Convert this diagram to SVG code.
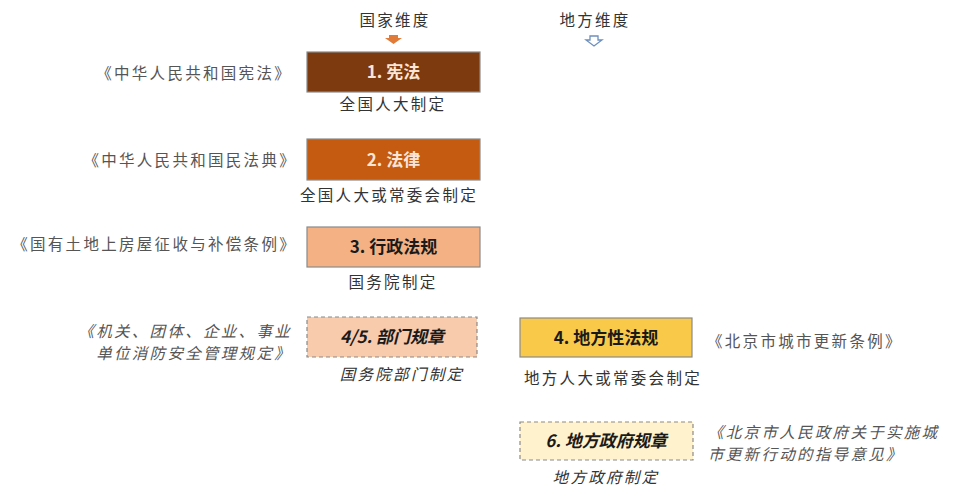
<svg xmlns="http://www.w3.org/2000/svg" width="957" height="500" viewBox="0 0 957 500">
<style>
text{font-family:"Noto Sans CJK SC","Liberation Sans",sans-serif;}
.lbl{font-size:15.5px;fill:#333;letter-spacing:2.3px;}
.src{font-size:15.5px;fill:#555;letter-spacing:2.3px;}
.it{font-style:italic;}
.bt{font-size:17px;font-weight:bold;text-anchor:middle;}
.box{stroke:#8a8a8a;stroke-width:1.2;}
.dash{stroke:#8a8a8a;stroke-width:1.2;stroke-dasharray:4 3;}
</style>
<rect width="957" height="500" fill="#fff"/>
<g id="headers">
<text class="lbl" x="395" y="26" text-anchor="middle">国家维度</text>
<path d="M389 35 H398 V38 H402 L393.5 44 L385 38 H389 Z" fill="#E07B39"/>
<text class="lbl" x="595" y="26" text-anchor="middle">地方维度</text>
<path d="M590 36 H598 V40 H602 L594 46 L586 40 H590 Z" fill="#fff" stroke="#6d8fbf" stroke-width="1.3"/>
</g>
<g id="n1">
<rect class="box" x="307" y="52" width="173" height="40" fill="#7E3A0F"/>
<text class="bt" x="393.5" y="78" fill="#FBE5D6">1. 宪法</text>
<text class="lbl" x="393" y="110" text-anchor="middle">全国人大制定</text>
<text class="src" x="292" y="79" text-anchor="end">《中华人民共和国宪法》</text>
</g>
<g id="n2">
<rect class="box" x="307" y="139" width="173" height="41" fill="#C55A11"/>
<text class="bt" x="393.5" y="166" fill="#FBE5D6">2. 法律</text>
<text class="lbl" x="389" y="201" text-anchor="middle">全国人大或常委会制定</text>
<text class="src" x="297" y="166" text-anchor="end">《中华人民共和国民法典》</text>
</g>
<g id="n3">
<rect class="box" x="307" y="227" width="173" height="40" fill="#F4B183"/>
<text class="bt" x="393.5" y="253" fill="#1a1a1a">3. 行政法规</text>
<text class="lbl" x="393" y="288" text-anchor="middle">国务院制定</text>
<text class="src" x="297" y="250" text-anchor="end">《国有土地上房屋征收与补偿条例》</text>
</g>
<g id="n45">
<rect class="dash" x="307" y="317" width="170" height="40" fill="#F8CBAD"/>
<text class="bt it" x="392" y="343" fill="#1a1a1a">4/5. 部门规章</text>
<text class="lbl it" x="402" y="380" text-anchor="middle">国务院部门制定</text>
<text class="src it" x="292" y="337" text-anchor="end">《机关、团体、企业、事业</text>
<text class="src it" x="292" y="359" text-anchor="end">单位消防安全管理规定》</text>
</g>
<g id="n4">
<rect class="box" x="520" y="318" width="172" height="39" fill="#F9C94A"/>
<text class="bt" x="606" y="344" fill="#1a1a1a">4. 地方性法规</text>
<text class="lbl" x="613" y="384" text-anchor="middle">地方人大或常委会制定</text>
<text class="src" x="707" y="347">《北京市城市更新条例》</text>
</g>
<g id="n6">
<rect class="dash" x="520" y="422" width="173" height="38" fill="#FFF2CC"/>
<text class="bt it" x="606" y="447" fill="#1a1a1a">6. 地方政府规章</text>
<text class="lbl it" x="606" y="483" text-anchor="middle">地方政府制定</text>
<text class="src it" x="708" y="438">《北京市人民政府关于实施城</text>
<text class="src it" x="708" y="460">市更新行动的指导意见》</text>
</g>
<g id="connectors"></g>
</svg>
